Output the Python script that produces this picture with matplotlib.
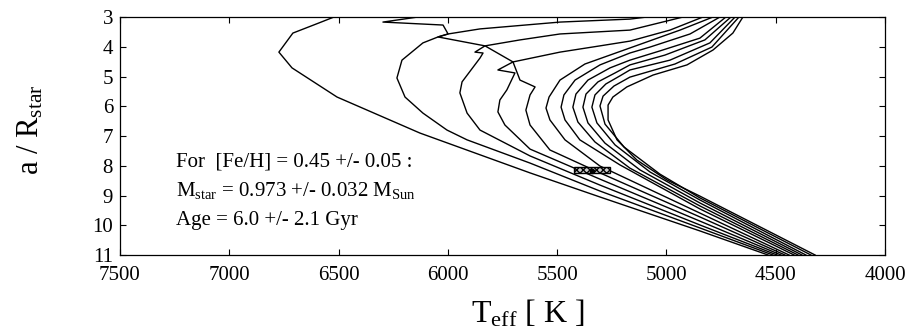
import matplotlib
matplotlib.use("Agg")
import matplotlib.pyplot as plt
from matplotlib.patches import Rectangle

plt.rcParams['font.family'] = ['Liberation Serif', 'DejaVu Serif']
plt.rcParams['mathtext.fontset'] = 'custom'
plt.rcParams['mathtext.rm'] = 'Liberation Serif'
plt.rcParams['mathtext.it'] = 'Liberation Serif:italic'

# isochrones: Teff [K] and a/R_star, youngest first
teff_1 = [4535, 4847, 5304, 5624, 6128, 6507, 6713, 6773, 6709, 6590, 6521]
aR_1 = [11.0, 10.19, 9.05, 8.24, 6.90, 5.69, 4.71, 4.18, 3.54, 3.20, 3.00]

teff_2 = [4513, 4847, 5304, 5624, 5912, 6004, 6114, 6196, 6233, 6210, 6114, 6045, 5999, 6022, 6297, 6137]
aR_2 = [11.0, 10.09, 8.85, 7.91, 7.13, 6.80, 6.23, 5.69, 5.05, 4.45, 3.87, 3.67, 3.57, 3.27, 3.17, 3.00]

teff_3 = [4494, 4847, 5304, 5624, 5853, 5912, 5945, 5935, 5853, 5839, 5876, 5830, 6045, 5999, 5853, 5487, 5167, 5089]
aR_3 = [11.0, 9.99, 8.65, 7.67, 6.80, 6.23, 5.55, 5.18, 4.38, 4.21, 4.18, 3.97, 3.67, 3.57, 3.40, 3.17, 3.07, 3.00]

teff_4 = [4476, 4847, 5304, 5624, 5739, 5771, 5762, 5730, 5693, 5771, 5702, 5830, 5670, 5487, 5167, 4924]
aR_4 = [11.0, 9.86, 8.45, 7.44, 6.63, 6.19, 5.79, 5.45, 4.88, 4.78, 4.51, 3.97, 3.77, 3.57, 3.44, 3.00]

teff_5 = [4458, 4847, 5304, 5533, 5624, 5643, 5624, 5601, 5670, 5702, 5487, 5304, 5167, 4984, 4833]
aR_5 = [11.0, 9.72, 8.24, 7.47, 6.63, 6.13, 5.62, 5.35, 5.12, 4.51, 4.18, 3.97, 3.81, 3.44, 3.00]

teff_6 = [4439, 4847, 5304, 5464, 5533, 5551, 5537, 5487, 5373, 5167, 4938, 4787]
aR_6 = [11.0, 9.59, 8.01, 7.13, 6.46, 6.06, 5.69, 5.12, 4.58, 4.04, 3.44, 3.00]

teff_7 = [4416, 4847, 5213, 5396, 5464, 5482, 5469, 5418, 5304, 5167, 5075, 4892, 4755]
aR_7 = [11.0, 9.45, 7.97, 7.13, 6.46, 6.03, 5.62, 5.12, 4.61, 4.21, 4.01, 3.57, 3.00]

teff_8 = [4398, 4847, 5167, 5327, 5405, 5428, 5414, 5359, 5258, 5167, 5030, 4847, 4728]
aR_8 = [11.0, 9.35, 8.08, 7.20, 6.53, 6.03, 5.59, 5.12, 4.71, 4.45, 4.14, 3.71, 3.00]

teff_9 = [4380, 4847, 5121, 5281, 5359, 5382, 5368, 5313, 5235, 5167, 5007, 4824, 4705]
aR_9 = [11.0, 9.25, 8.14, 7.24, 6.56, 6.03, 5.59, 5.18, 4.88, 4.61, 4.28, 3.77, 3.00]

teff_10 = [4362, 4847, 5075, 5235, 5318, 5341, 5327, 5277, 5213, 5167, 4984, 4801, 4686]
aR_10 = [11.0, 9.15, 8.21, 7.30, 6.56, 6.03, 5.62, 5.25, 4.98, 4.78, 4.45, 3.87, 3.00]

teff_11 = [4339, 4847, 5030, 5194, 5281, 5304, 5290, 5240, 5167, 4961, 4792, 4668]
aR_11 = [11.0, 9.08, 8.28, 7.37, 6.60, 5.99, 5.66, 5.32, 5.02, 4.58, 4.01, 3.00]

teff_12 = [4320, 4847, 4997, 5135, 5226, 5267, 5267, 5245, 5181, 5061, 4906, 4787, 4696, 4650]
aR_12 = [11.0, 9.02, 8.48, 7.81, 7.13, 6.46, 5.96, 5.69, 5.35, 4.95, 4.61, 4.11, 3.54, 3.00]

isochrones = [(teff_1, aR_1), (teff_2, aR_2), (teff_3, aR_3), (teff_4, aR_4),
              (teff_5, aR_5), (teff_6, aR_6), (teff_7, aR_7), (teff_8, aR_8),
              (teff_9, aR_9), (teff_10, aR_10), (teff_11, aR_11), (teff_12, aR_12)]

# observed star: Teff range and a/R range
star_teff = [5258, 5423]
star_aR = [8.03, 8.25]
star_point = (5340, 8.16)

xticks = [7500, 7000, 6500, 6000, 5500, 5000, 4500, 4000]
yticks = [3, 4, 5, 6, 7, 8, 9, 10, 11]

fig = plt.figure(figsize=(9.09, 3.31), dpi=100)
ax = fig.add_axes([0.132, 0.2296, 0.8416, 0.719])

for t, a in isochrones:
    ax.plot(t, a, color='black', lw=1.0)

box = Rectangle((star_teff[0], star_aR[0]), star_teff[1] - star_teff[0],
                star_aR[1] - star_aR[0], facecolor='#d0d0d0', edgecolor='black',
                hatch='xxxxx', lw=1.0, zorder=3)
ax.add_patch(box)
ax.plot(*star_point, 'o', color='black', ms=3, zorder=4)

ax.set_xlim(7500, 4000)
ax.set_ylim(11, 3)
ax.set_xticks(xticks)
ax.set_yticks(yticks)
ax.tick_params(direction='in', top=True, right=True, length=4, width=0.8,
               labelsize=15)
ax.tick_params(axis='x', pad=8)
ax.tick_params(axis='y', pad=5)
for s in ax.spines.values():
    s.set_linewidth(0.9)

fig.text(0.581, 0.027, r'T$_{\rm eff}$ [ K ]', fontsize=23, ha='center',
         va='baseline')
ax.set_ylabel(r'a / R$_{\rm star}$', fontsize=22)
ax.yaxis.set_label_coords(-0.097, 0.525)

ax.text(0.073, 0.391, 'For  [Fe/H] = 0.45 +/- 0.05 :', transform=ax.transAxes,
        fontsize=15, va='center')
ax.text(0.073, 0.273, r'M$_{\rm star}$ = 0.973 +/- 0.032 M$_{\rm Sun}$',
        transform=ax.transAxes, fontsize=15, va='center')
ax.text(0.073, 0.147, 'Age = 6.0 +/- 2.1 Gyr', transform=ax.transAxes,
        fontsize=15, va='center')

fig.savefig('out.png', dpi=100)
